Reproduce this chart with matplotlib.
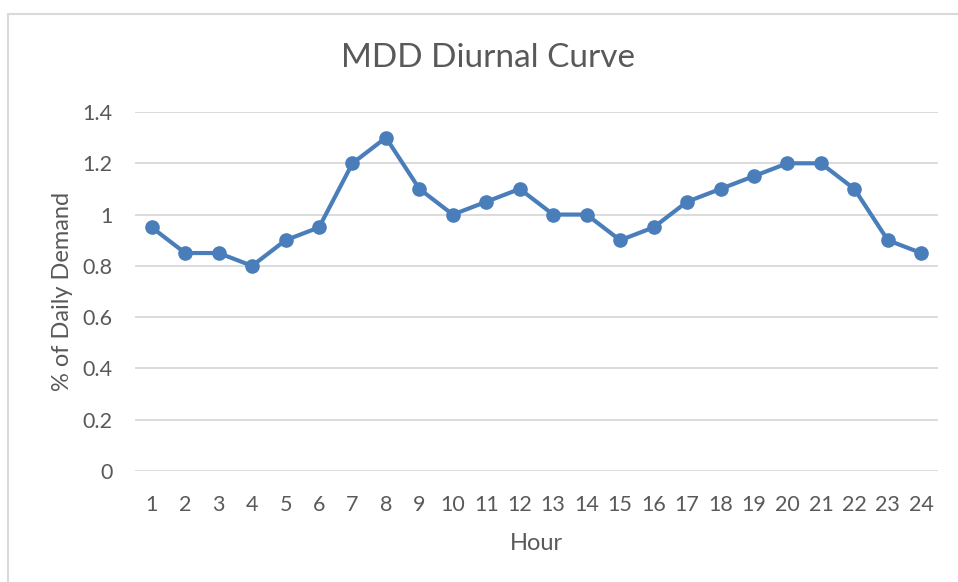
import matplotlib
matplotlib.use('Agg')
import matplotlib.pyplot as plt
from matplotlib.patches import Rectangle

hours = list(range(1, 25))
demand = [0.95, 0.85, 0.85, 0.80, 0.90, 0.95, 1.20, 1.30, 1.10, 1.00, 1.05, 1.10,
          1.00, 1.00, 0.90, 0.95, 1.05, 1.10, 1.15, 1.20, 1.20, 1.10, 0.90, 0.85]
y_ticks = [0, 0.2, 0.4, 0.6, 0.8, 1, 1.2, 1.4]
y_tick_labels = ['0', '0.2', '0.4', '0.6', '0.8', '1', '1.2', '1.4']

plt.rcParams['font.family'] = ['Lato', 'DejaVu Sans']
text_color = '#595959'
line_color = '#4a7ebb'
grid_color = '#d9d9d9'

fig = plt.figure(figsize=(9.58, 5.82), dpi=100)
fig.patches.append(Rectangle((8 / 958, -0.1), 1.2, (582 - 14) / 582 + 0.1,
                             transform=fig.transFigure, fill=False,
                             edgecolor='#d9d9d9', linewidth=1.5))

ax = fig.add_axes([135 / 958, 1 - 471 / 582, (938 - 135) / 958, (471 - 112) / 582])
ax.plot(hours, demand, color=line_color, linewidth=3, marker='o', markersize=9.5,
        zorder=3, clip_on=False)

ax.set_xlim(0.5, 24.5)
ax.set_ylim(0, 1.4)
ax.set_xticks(hours)
ax.set_xticklabels([str(h) for h in hours])
ax.set_yticks(y_ticks)
ax.set_yticklabels(y_tick_labels)
ax.tick_params(length=0, labelsize=15.5, colors=text_color)
ax.tick_params(axis='x', pad=17.5)
ax.tick_params(axis='y', pad=16)
for s in ax.spines.values():
    s.set_visible(False)
ax.grid(axis='y', color=grid_color, linewidth=1.3)
ax.set_axisbelow(True)

ax.set_xlabel('Hour', fontsize=17, color=text_color, labelpad=13)
ax.set_ylabel('% of Daily Demand', fontsize=17, color=text_color, labelpad=7)
fig.text(488 / 958, 1 - 58 / 582, 'MDD Diurnal Curve', fontsize=24, color=text_color,
         ha='center', va='center')

fig.savefig('out.png', dpi=100)
